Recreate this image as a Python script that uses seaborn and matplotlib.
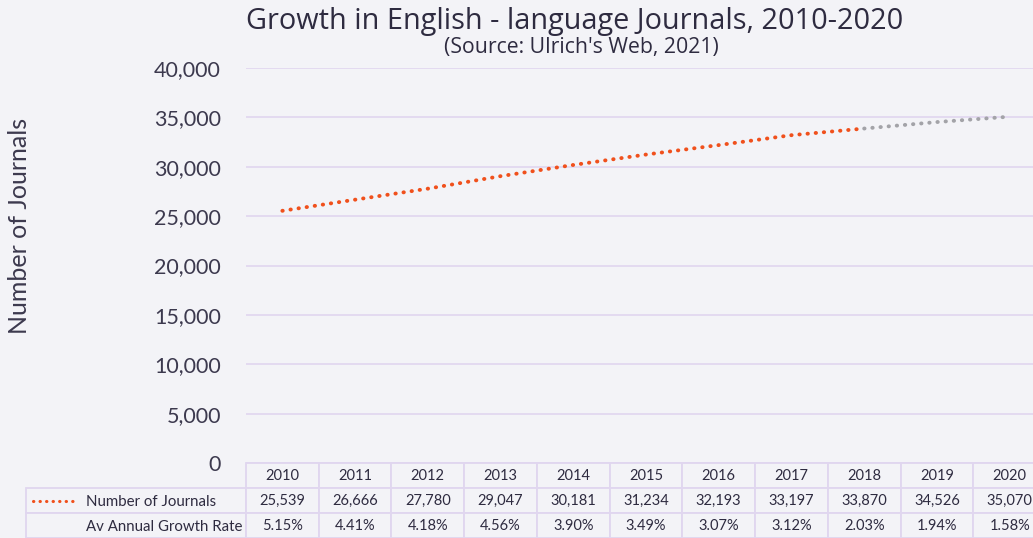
import matplotlib
matplotlib.use("Agg")
import matplotlib.pyplot as plt
import seaborn as sns
import pandas as pd
from matplotlib.lines import Line2D

years = [2010, 2011, 2012, 2013, 2014, 2015, 2016, 2017, 2018, 2019, 2020]
journals = [25539, 26666, 27780, 29047, 30181, 31234, 32193, 33197, 33870, 34526, 35070]
growth = ["5.15%", "4.41%", "4.18%", "4.56%", "3.90%", "3.49%", "3.07%", "3.12%", "2.03%", "1.94%", "1.58%"]
yticks = [0, 5000, 10000, 15000, 20000, 25000, 30000, 35000, 40000]
row_labels = ["Number of Journals", "Av Annual Growth Rate"]
title = "Growth in English - language Journals, 2010-2020"
subtitle = "(Source: Ulrich's Web, 2021)"
ylabel = "Number of Journals"

BG = "#f3f3f7"
GRID = "#e0d6ef"
TXT = "#2e2b40"
TICK = "#3c394e"
ORANGE = "#f0501c"
GREY = "#a3a3a8"

sns.set_theme(style="white")
plt.rcParams["font.family"] = ["Lato", "DejaVu Sans"]

fig = plt.figure(figsize=(10.33, 5.38), dpi=100, facecolor=BG)
ax = fig.add_axes([246 / 1033, 75 / 538, 800 / 1033, 395 / 538])
ax.set_facecolor(BG)

df = pd.DataFrame({"year": years, "journals": journals})
split = years.index(2018)
solid = df.iloc[: split + 1]
proj = df.iloc[split:]
dots = (0, (0.1, 2.0))
LW = 2.8
sns.lineplot(data=proj, x="year", y="journals", ax=ax, color=GREY, lw=LW,
             linestyle=dots, dash_capstyle="round")
sns.lineplot(data=solid, x="year", y="journals", ax=ax, color=ORANGE, lw=LW,
             linestyle=dots, dash_capstyle="round")
for l in ax.get_lines():
    l.set_dash_capstyle("round")

ax.set_xlim(years[0] - 0.5, years[-1] + 0.5)
ax.set_ylim(0, 40000)
ax.set_yticks(yticks)
ax.set_yticklabels([f"{v:,}" for v in yticks], fontsize=15.5, color=TICK)
ax.tick_params(axis="y", length=0, pad=18)
ax.set_xticks([])
ax.set_xlabel("")
ax.set_ylabel(ylabel, fontsize=18, color=TICK)
ax.yaxis.set_label_coords((31 - 246) / 800, 0.6)
ax.yaxis.grid(True, color=GRID, lw=1.2)
ax.set_axisbelow(True)
for s in ax.spines.values():
    s.set_visible(False)

# data table
cell_text = [[""] + [str(y) for y in years],
             [""] + [f"{v:,}" for v in journals],
             [""] + growth]
label_w = 220 / 800
col_w = 1 / len(years)
row_h = 25 / 395
tbl = ax.table(cellText=cell_text, colWidths=[label_w] + [col_w] * len(years),
               cellLoc="center", bbox=[-label_w, -3 * row_h, 1 + label_w, 3 * row_h])
tbl.auto_set_font_size(False)
for (r, c), cell in tbl.get_celld().items():
    cell.set_edgecolor(GRID)
    cell.set_linewidth(1.3)
    cell.set_facecolor(BG)
    cell.get_text().set_fontsize(10.5)
    cell.get_text().set_color(TXT)
tbl[0, 0].visible_edges = ""

x_lab = (86 - 246) / 800
row_y = [-1.5 * row_h, -2.5 * row_h]
for lab, yy in zip(row_labels, row_y):
    ax.text(x_lab, yy, lab, transform=ax.transAxes, fontsize=10.8, color=TXT,
            ha="left", va="center_baseline", clip_on=False)
ax.add_line(Line2D([(33 - 246) / 800, (77 - 246) / 800], [row_y[0], row_y[0]],
                   transform=ax.transAxes, color=ORANGE, lw=LW * 0.8, linestyle=dots,
                   dash_capstyle="round", clip_on=False))

fig.text(575 / 1033, 1 - 21 / 538, title, fontsize=20.8, color=TXT,
         ha="center", va="center", family=["Open Sans", "DejaVu Sans"])
fig.text(581 / 1033, 1 - 48 / 538, subtitle, fontsize=15.3, color=TXT,
         ha="center", va="center", family=["Open Sans", "DejaVu Sans"])

fig.savefig("out.png", dpi=100, facecolor=BG)
